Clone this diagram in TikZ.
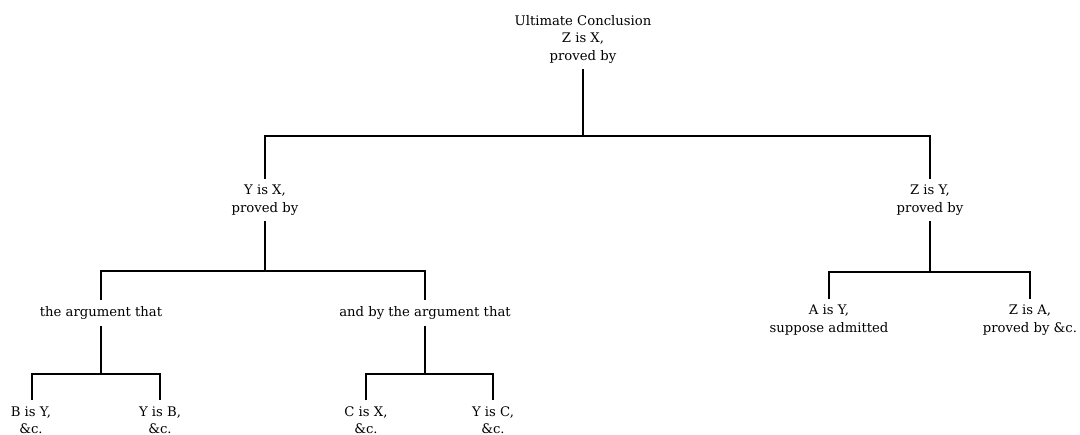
\documentclass[tikz,border=0pt]{standalone}
\usepackage{fontspec}
\setmainfont{DejaVu Serif}
\begin{document}
\begin{tikzpicture}[x=1pt,y=-1pt,
  every node/.style={font=\fontsize{13.2}{17.5}\selectfont},
  claim/.style={align=center,inner xsep=0pt,inner ysep=6pt},
  link/.style={line width=1.8pt}]
\useasboundingbox (0,0) rectangle (1080,435);

% statements of the chain of proof
\node[claim] (top) at (583,39) {Ultimate Conclusion\\Z is X,\\proved by};
\node[claim] (yx)  at (265,200) {Y is X,\\proved by};
\node[claim] (zy)  at (930,200) {Z is Y,\\proved by};
\node[claim] (arg1) at (101,313) {the argument that};
\node[claim] (arg2) at (425,313) {and by the argument that};
\node[claim] (by) at (31,420) {B is Y,\\\&c.};
\node[claim] (yb) at (160,420) {Y is B,\\\&c.};
\node[claim] (cx) at (366,420) {C is X,\\\&c.};
\node[claim] (yc) at (493,420) {Y is C,\\\&c.};
\node[claim] (ay) at (829,320) {A is Y,\\suppose admitted};
\node[claim] (za) at (1030,320) {Z is A,\\proved by \&c.};

% junctions on the horizontal bars
\coordinate (j0) at (583,136);
\coordinate (j1) at (265,271);
\coordinate (j2) at (101,374);
\coordinate (j3) at (425,374);
\coordinate (j4) at (930,272);

\draw[link] (top) -- (j0);
\draw[link] (yx) |- (j0) -| (zy);
\draw[link] (yx) -- (j1);
\draw[link] (arg1) |- (j1) -| (arg2);
\draw[link] (arg1) -- (j2);
\draw[link] ([xshift=1pt]by.north) |- (j2) -| (yb);
\draw[link] (arg2) -- (j3);
\draw[link] (cx) |- (j3) -| (yc);
\draw[link] (zy) -- (j4);
\draw[link] (ay) |- (j4) -| (za);
\end{tikzpicture}
\end{document}
